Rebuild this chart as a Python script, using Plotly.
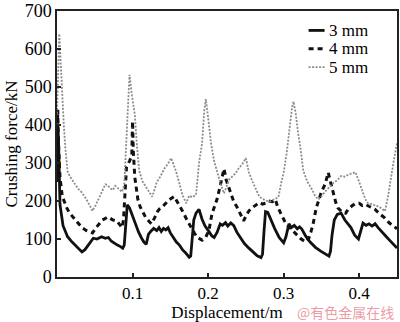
import plotly.graph_objects as go

# Crushing force vs displacement for three wall thicknesses
x_3mm = [0.000, 0.001, 0.002, 0.003, 0.004, 0.008, 0.014, 0.020, 0.024, 0.029, 0.033, 0.037, 0.041, 0.045,
         0.048, 0.053, 0.059, 0.064, 0.068, 0.072, 0.076, 0.080, 0.084, 0.087, 0.089, 0.091, 0.093, 0.096,
         0.100, 0.104, 0.108, 0.112, 0.115, 0.118, 0.121, 0.124, 0.128, 0.132, 0.135, 0.138, 0.141, 0.144,
         0.147, 0.150, 0.154, 0.158, 0.162, 0.166, 0.170, 0.175, 0.177, 0.179, 0.181, 0.184, 0.188, 0.192,
         0.196, 0.201, 0.205, 0.208, 0.212, 0.216, 0.219, 0.223, 0.226, 0.230, 0.234, 0.238, 0.243, 0.248,
         0.254, 0.260, 0.265, 0.270, 0.272, 0.274, 0.276, 0.279, 0.283, 0.288, 0.294, 0.300, 0.303, 0.307,
         0.310, 0.314, 0.318, 0.321, 0.324, 0.329, 0.335, 0.342, 0.349, 0.355, 0.360, 0.362, 0.364, 0.367,
         0.371, 0.376, 0.381, 0.389, 0.394, 0.399, 0.402, 0.405, 0.409, 0.413, 0.417, 0.421, 0.425, 0.430,
         0.435, 0.441, 0.446, 0.450]
f_3mm = [250, 400, 360, 290, 190, 135, 106, 92, 84, 74, 66, 72, 84, 96,
         102, 100, 106, 102, 104, 94, 88, 84, 80, 76, 84, 150, 190, 182,
         160, 138, 118, 102, 92, 86, 112, 120, 128, 122, 130, 120, 128, 124,
         130, 116, 104, 92, 84, 72, 64, 52, 55, 98, 150, 168, 178, 152,
         134, 120, 108, 104, 118, 140, 136, 143, 134, 142, 135, 118, 102, 88,
         76, 64, 56, 51, 60, 120, 172, 170, 150, 128, 104, 90, 106, 140,
         130, 136, 127, 132, 126, 108, 92, 78, 68, 60, 55, 68, 110, 150,
         165, 168, 150, 130, 110, 100, 118, 142, 136, 140, 134, 140, 130, 120,
         108, 95, 84, 76]

x_4mm = [0.000, 0.001, 0.002, 0.004, 0.007, 0.010, 0.013, 0.016, 0.020, 0.024, 0.028, 0.033, 0.039, 0.043,
         0.047, 0.051, 0.054, 0.057, 0.060, 0.063, 0.067, 0.070, 0.074, 0.079, 0.083, 0.086, 0.088, 0.090,
         0.092, 0.096, 0.099, 0.100, 0.101, 0.103, 0.107, 0.110, 0.113, 0.117, 0.122, 0.125, 0.129, 0.133,
         0.136, 0.140, 0.145, 0.149, 0.155, 0.160, 0.166, 0.172, 0.178, 0.182, 0.186, 0.192, 0.197, 0.201,
         0.205, 0.209, 0.212, 0.216, 0.219, 0.221, 0.224, 0.228, 0.234, 0.238, 0.241, 0.247, 0.250, 0.254,
         0.258, 0.263, 0.268, 0.272, 0.276, 0.280, 0.285, 0.289, 0.292, 0.296, 0.300, 0.303, 0.310, 0.316,
         0.322, 0.329, 0.333, 0.336, 0.339, 0.343, 0.347, 0.350, 0.355, 0.359, 0.362, 0.366, 0.369, 0.372,
         0.377, 0.382, 0.386, 0.391, 0.395, 0.400, 0.404, 0.408, 0.413, 0.417, 0.421, 0.425, 0.430, 0.434,
         0.440, 0.445, 0.450]
f_4mm = [320, 440, 350, 262, 212, 196, 182, 170, 160, 150, 140, 130, 122, 118,
         116, 128, 135, 140, 150, 153, 158, 155, 150, 148, 136, 130, 150, 240,
         290, 305, 320, 410, 330, 262, 205, 185, 172, 158, 146, 140, 155, 172,
         180, 186, 196, 204, 212, 196, 174, 150, 128, 115, 104, 97, 105, 122,
         165, 190, 206, 240, 270, 285, 255, 232, 198, 185, 174, 148, 160, 174,
         182, 190, 196, 192, 194, 200, 198, 204, 185, 168, 152, 140, 126, 114,
         102, 92, 100, 118, 140, 181, 205, 224, 245, 275, 250, 216, 196, 181,
         172, 168, 180, 188, 193, 194, 188, 191, 186, 182, 178, 170, 162, 155,
         142, 134, 127]

x_5mm = [0.000, 0.002, 0.003, 0.005, 0.007, 0.009, 0.011, 0.014, 0.017, 0.020, 0.024, 0.028, 0.033, 0.039,
         0.043, 0.047, 0.051, 0.054, 0.058, 0.061, 0.064, 0.067, 0.070, 0.074, 0.077, 0.079, 0.083, 0.086,
         0.089, 0.091, 0.093, 0.095, 0.096, 0.099, 0.103, 0.106, 0.109, 0.113, 0.118, 0.122, 0.126, 0.129,
         0.132, 0.136, 0.139, 0.143, 0.147, 0.151, 0.155, 0.158, 0.162, 0.166, 0.171, 0.175, 0.179, 0.184,
         0.188, 0.192, 0.195, 0.197, 0.200, 0.204, 0.208, 0.211, 0.217, 0.221, 0.225, 0.228, 0.233, 0.237,
         0.241, 0.245, 0.250, 0.254, 0.259, 0.263, 0.267, 0.271, 0.276, 0.281, 0.287, 0.293, 0.297, 0.300,
         0.304, 0.308, 0.311, 0.313, 0.316, 0.319, 0.322, 0.326, 0.331, 0.337, 0.342, 0.346, 0.350, 0.355,
         0.361, 0.366, 0.371, 0.376, 0.381, 0.386, 0.390, 0.395, 0.399, 0.403, 0.408, 0.412, 0.417, 0.421,
         0.425, 0.430, 0.434, 0.438, 0.442, 0.446, 0.450]
f_5mm = [430, 600, 640, 560, 470, 400, 340, 278, 265, 257, 244, 232, 222, 204,
         190, 174, 188, 200, 220, 232, 244, 242, 234, 229, 240, 237, 228, 224,
         242, 320, 430, 510, 532, 480, 427, 340, 278, 252, 237, 222, 211, 230,
         249, 262, 275, 288, 298, 313, 292, 275, 246, 216, 194, 214, 210, 216,
         300, 352, 440, 468, 420, 350, 305, 282, 242, 220, 242, 257, 266, 275,
         288, 296, 313, 275, 250, 232, 215, 206, 202, 198, 204, 210, 250, 275,
         326, 400, 445, 462, 430, 380, 343, 280, 252, 232, 212, 204, 212, 225,
         238, 248, 255, 266, 264, 270, 272, 276, 255, 232, 205, 193, 192, 188,
         186, 180, 173, 210, 262, 310, 352]

x_ticks = [0.1, 0.2, 0.3, 0.4]
y_ticks = [0, 100, 200, 300, 400, 500, 600, 700]

series_names = ["3 mm", "4 mm", "5 mm"]
series_styles = [
    dict(color="#111111", width=2.8),
    dict(color="#111111", width=3, dash="5px,4px"),
    dict(color="#8c8c8c", width=1.8, dash="2px,1.5px"),
]

serif = "Liberation Serif, Times New Roman, serif"
fs_tick = 18
fs_text = 17

fig = go.Figure()
for xs, ys, name, style in zip([x_3mm, x_4mm, x_5mm], [f_3mm, f_4mm, f_5mm],
                               series_names, series_styles):
    fig.add_trace(go.Scatter(x=xs, y=ys, mode="lines", name=name,
                             line=style, showlegend=False))

# compact key in the upper-right corner (paper coordinates)
key_x0, key_x1, key_text_x = 0.740, 0.787, 0.795
key_rows = [0.927, 0.858, 0.789]
shapes = []
annotations = []
for row_y, name, style in zip(key_rows, series_names, series_styles):
    shapes.append(dict(type="line", xref="paper", yref="paper",
                       x0=key_x0, x1=key_x1, y0=row_y, y1=row_y,
                       line=dict(color=style["color"], width=style["width"],
                                 dash=style.get("dash", "solid"))))
    annotations.append(dict(text=name, xref="paper", yref="paper",
                            x=key_text_x, y=row_y, xanchor="left", yanchor="middle",
                            showarrow=False, font=dict(family=serif, size=fs_text, color="black")))

# site mark in the lower-right corner
annotations.append(dict(text="@有色金属在线", xref="paper", yref="paper",
                        x=0.998, y=-0.133, xanchor="right", yanchor="middle",
                        showarrow=False,
                        font=dict(family="Noto Sans CJK SC", size=14,
                                  color="rgba(225,95,110,0.65)")))

fig.update_layout(
    width=400, height=322,
    margin=dict(l=57, r=1, t=3, b=44),
    paper_bgcolor="white", plot_bgcolor="white",
    font=dict(family=serif, size=fs_tick, color="black"),
    showlegend=False,
    shapes=shapes,
    annotations=annotations,
)

fig.update_xaxes(range=[0, 0.45], tickvals=x_ticks, ticktext=[str(v) for v in x_ticks],
                 ticks="inside", ticklen=4, tickwidth=1.5, tickcolor="#222",
                 showline=True, linecolor="#222", linewidth=1.5, mirror=True,
                 showgrid=False, zeroline=False, ticklabeloverflow="allow",
                 tickfont=dict(family=serif, size=17),
                 title=dict(text="Displacement/m", standoff=6,
                            font=dict(family=serif, size=fs_text)))
fig.update_yaxes(range=[0, 700], tickvals=y_ticks, ticktext=[str(v) for v in y_ticks],
                 ticks="inside", ticklen=4, tickwidth=1.5, tickcolor="#222",
                 showline=True, linecolor="#222", linewidth=1.5, mirror=True,
                 showgrid=False, zeroline=False, ticklabeloverflow="allow",
                 tickfont=dict(family=serif, size=fs_tick),
                 title=dict(text="Crushing force/kN", standoff=3,
                            font=dict(family=serif, size=fs_text)))

fig.write_html("out.html")
